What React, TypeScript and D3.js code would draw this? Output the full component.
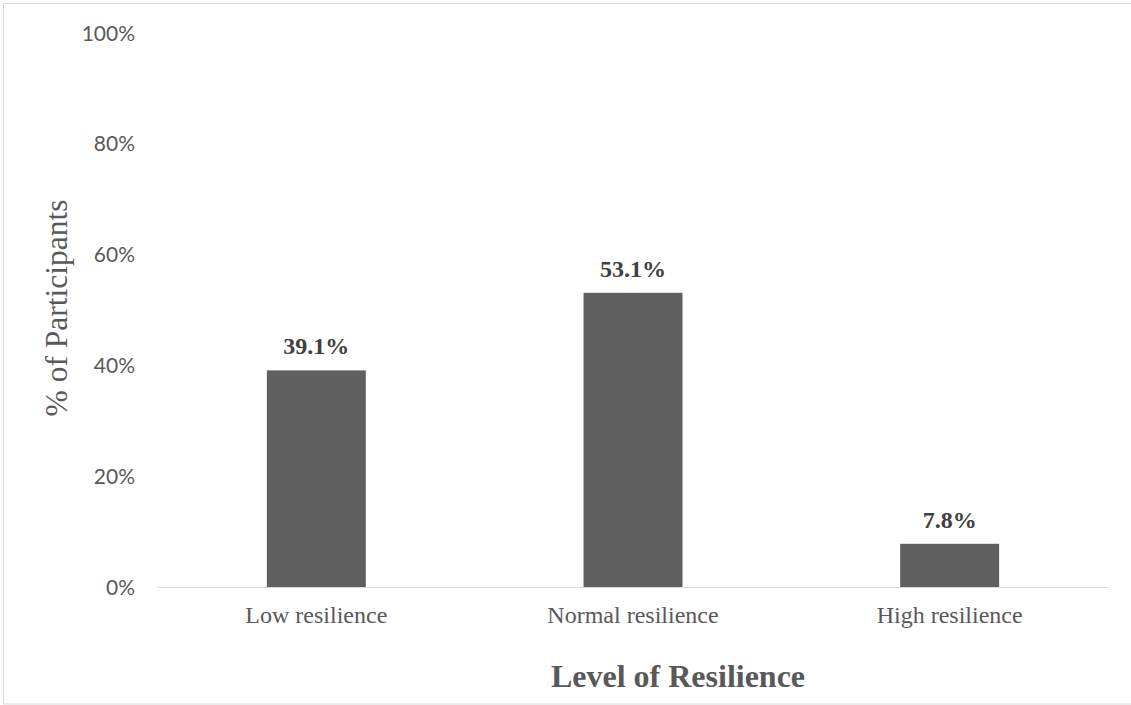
import React from "react";
import * as d3 from "d3";

const categories: string[] = ["Low resilience", "Normal resilience", "High resilience"];
const values: number[] = [39.1, 53.1, 7.8];
const valueLabels: string[] = ["39.1%", "53.1%", "7.8%"];
const yTicks: number[] = [0, 20, 40, 60, 80, 100];
const yTickLabels: string[] = ["0%", "20%", "40%", "60%", "80%", "100%"];
const xTitle = "Level of Resilience";
const yTitle = "% of Participants";

const W = 1131;
const H = 705;

export default function App() {
  const x = d3.scaleBand<string>().domain(categories).range([158, 1108]).padding(0);
  const y = d3.scaleLinear().domain([0, 100]).range([587, 33]);
  const barW = x.bandwidth() * 0.3125;
  const serif = "'Liberation Serif', 'Times New Roman', serif";
  const sans = "Lato, 'Open Sans', sans-serif";

  return (
    <svg
      width={W}
      height={H}
      style={{ position: "absolute", left: 0, top: 0, background: "#fff" }}
    >
      <rect x={3.5} y={3.5} width={1130} height={700.5} fill="#fff" stroke="#d9d9d9" strokeWidth={1} />

      {/* y tick labels */}
      {yTicks.map((t, i) => (
        <text
          key={t}
          x={135}
          y={y(t)}
          dy="0.36em"
          textAnchor="end"
          fontFamily={sans}
          fontSize={21}
          fill="#595959"
        >
          {yTickLabels[i]}
        </text>
      ))}

      {/* bars */}
      {categories.map((c, i) => {
        const cx = (x(c) as number) + x.bandwidth() / 2;
        return (
          <g key={c}>
            <rect
              x={cx - barW / 2}
              y={y(values[i])}
              width={barW}
              height={y(0) - y(values[i])}
              fill="#5f5f5f"
            />
            <text
              x={cx}
              y={y(values[i]) - 16}
              textAnchor="middle"
              fontFamily={serif}
              fontWeight="bold"
              fontSize={24}
              fill="#404040"
            >
              {valueLabels[i]}
            </text>
            <text
              x={cx}
              y={623}
              textAnchor="middle"
              fontFamily={serif}
              fontSize={24}
              fill="#595959"
            >
              {c}
            </text>
          </g>
        );
      })}

      {/* x axis line */}
      <line x1={158} x2={1108} y1={587.5} y2={587.5} stroke="#d9d9d9" strokeWidth={1.2} />

      {/* axis titles */}
      <text
        x={678}
        y={687}
        textAnchor="middle"
        fontFamily={serif}
        fontWeight="bold"
        fontSize={32}
        fill="#595959"
      >
        {xTitle}
      </text>
      <text
        transform="translate(67,308) rotate(-90)"
        textAnchor="middle"
        fontFamily={serif}
        fontSize={31.5}
        fill="#595959"
      >
        {yTitle}
      </text>
    </svg>
  );
}
